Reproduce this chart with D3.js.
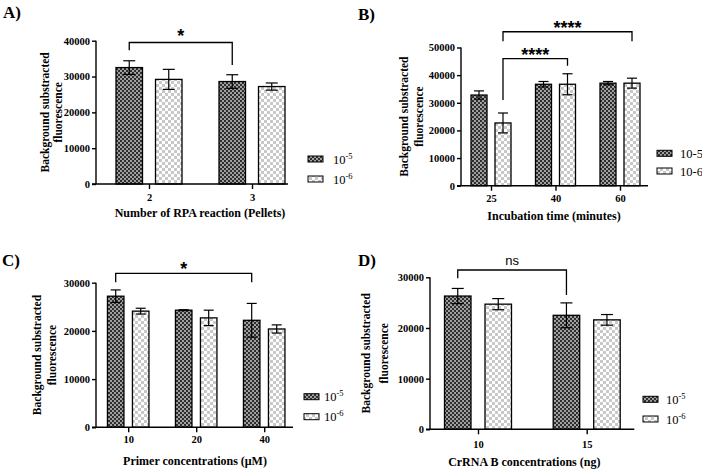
<!DOCTYPE html>
<html>
<head>
<meta charset="UTF-8">
<title>RPA fluorescence panels</title>
<script src="https://d3js.org/d3.v7.min.js"></script>
<style>
  body { margin: 0; background: #fff; }
  svg { display: block; }
  .serif { font-family: "Liberation Serif", "Times New Roman", serif; }
</style>
</head>
<body>
<svg width="702" height="470"></svg>
<script>

// ---- data ----
var series = ["10-5", "10-6"];

// A) number of RPA reactions
var catsA = ["2", "3"];
var meanA5 = [32500, 28600], sdA5 = [1900, 1900];
var meanA6 = [29200, 27200], sdA6 = [2800, 1000];

// B) incubation time
var catsB = ["25", "40", "60"];
var meanB5 = [32800, 36700, 37100], sdB5 = [1500, 1000, 600];
var meanB6 = [22700, 36700, 37100], sdB6 = [3600, 3800, 1800];

// C) primer concentration
var catsC = ["10", "20", "40"];
var meanC5 = [27200, 24300, 22200], sdC5 = [1300, 100, 3500];
var meanC6 = [24100, 22700, 20400], sdC6 = [600, 1600, 850];

// D) crRNA concentration
var catsD = ["10", "15"];
var meanD5 = [26300, 22500], sdD5 = [1500, 2450];
var meanD6 = [24700, 21600], sdD6 = [1100, 1050];

var svg = d3.select("svg");

// fill patterns (checkerboards)
var defs = svg.append("defs");
var pd = defs.append("pattern").attr("id", "dark")
  .attr("patternUnits", "userSpaceOnUse").attr("width", 4).attr("height", 4);
pd.append("rect").attr("width", 4).attr("height", 4).attr("fill", "#a0a0a0");
pd.append("rect").attr("width", 2).attr("height", 2).attr("fill", "#2e2e2e");
pd.append("rect").attr("x", 2).attr("y", 2).attr("width", 2).attr("height", 2).attr("fill", "#2e2e2e");
var pl = defs.append("pattern").attr("id", "light")
  .attr("patternUnits", "userSpaceOnUse").attr("width", 6).attr("height", 6);
pl.append("rect").attr("width", 6).attr("height", 6).attr("fill", "#ffffff");
pl.append("rect").attr("width", 3).attr("height", 3).attr("fill", "#c8c8c8");
pl.append("rect").attr("x", 3).attr("y", 3).attr("width", 3).attr("height", 3).attr("fill", "#c8c8c8");
var fills = ["url(#dark)", "url(#light)"];

var panels = [
  { label: "A)", lx: 3, ly: 18,
    cats: catsA, means: [meanA5, meanA6], sds: [sdA5, sdA6],
    yMax: 40000, xl: 96, xr: 288, yt: 40.7, yb: 184, c0: 149, c1: 252, bw: 26.5, gap: 13, cap: 12,
    ytx: [45, 58], xTitle: "Number of RPA reaction (Pellets)", xtx: 200, xty: 216.5, tickDy: 16.5,
    leg: { x: 308, y: 159, dy: 20, tx: 333, sup: true },
    brackets: [{ a: [0, 0], b: [1, 0], y: 39500, la: 37300, lb: 33200, text: "*", ty: 29, star: true }] },
  { label: "B)", lx: 358, ly: 20,
    cats: catsB, means: [meanB5, meanB6], sds: [sdB5, sdB6],
    yMax: 50000, xl: 461, xr: 648, yt: 47.5, yb: 185.7, c0: 491, c1: 620, bw: 16, gap: 8, cap: 10,
    ytx: [404, 419], xTitle: "Incubation time (minutes)", xtx: 554, xty: 220, tickDy: 16.5,
    leg: { x: 657, y: 153.3, dy: 17.7, tx: 680, sup: false },
    brackets: [
      { a: [0, 1], b: [1, 1], y: 46000, la: 31000, lb: 43400, text: "****", ty: 48.5, star: true },
      { a: [0, 1], b: [2, 1], y: 55700, la: 52300, lb: 52300, text: "****", ty: 21, star: true }] },
  { label: "C)", lx: 2, ly: 266,
    cats: catsC, means: [meanC5, meanC6], sds: [sdC5, sdC6],
    yMax: 30000, xl: 96, xr: 293, yt: 282.7, yb: 427.3, c0: 128.2, c1: 264.2, bw: 16.5, gap: 8.5, cap: 10,
    ytx: [36.7, 51.7], xTitle: "Primer concentrations (\u03bcM)", xtx: 195, xty: 464.5, tickDy: 16,
    leg: { x: 304, y: 396.7, dy: 20, tx: 324, sup: true },
    brackets: [{ a: [0, 0], b: [2, 0], y: 31950, la: 30100, lb: 30100, text: "*", ty: 262, star: true }] },
  { label: "D)", lx: 358, ly: 266,
    cats: catsD, means: [meanD5, meanD6], sds: [sdD5, sdD6],
    yMax: 30000, xl: 430, xr: 634.3, yt: 277.3, yb: 429.3, c0: 478, c1: 586.7, bw: 26.5, gap: 14, cap: 12,
    ytx: [366, 383.7], xTitle: "CrRNA B concentrations (ng)", xtx: 524.3, xty: 466, tickDy: 19,
    leg: { x: 643, y: 399.3, dy: 19.7, tx: 666, sup: true },
    brackets: [{ a: [0, 0], b: [1, 0], y: 31440, la: 29800, lb: 26500, text: "ns", ty: 260, star: false }] }
];

panels.forEach(function(p) {
  var g = svg.append("g");

  var x = d3.scalePoint().domain(p.cats).range([p.c0, p.c1]);
  var y = d3.scaleLinear().domain([0, p.yMax]).range([p.yb, p.yt]);
  var off = function(s) { return (s === 0 ? -1 : 1) * (p.bw + p.gap) / 2; };

  // bars
  p.means.forEach(function(m, s) {
    g.selectAll(null).data(m).enter().append("rect")
      .attr("x", function(d, i) { return x(p.cats[i]) + off(s) - p.bw / 2; })
      .attr("y", function(d) { return y(d); })
      .attr("width", p.bw)
      .attr("height", function(d) { return y(0) - y(d); })
      .attr("fill", fills[s])
      .attr("stroke", "#000").attr("stroke-width", 1.3);
  });

  // error bars
  p.means.forEach(function(m, s) {
    m.forEach(function(d, i) {
      var cx = x(p.cats[i]) + off(s), sd = p.sds[s][i];
      var e = g.append("g").attr("stroke", "#000").attr("stroke-width", 1.2);
      e.append("line").attr("x1", cx).attr("x2", cx).attr("y1", y(d + sd)).attr("y2", y(d - sd));
      e.append("line").attr("x1", cx - p.cap / 2).attr("x2", cx + p.cap / 2).attr("y1", y(d + sd)).attr("y2", y(d + sd));
      e.append("line").attr("x1", cx - p.cap / 2).attr("x2", cx + p.cap / 2).attr("y1", y(d - sd)).attr("y2", y(d - sd));
    });
  });

  // y axis
  var ya = g.append("g").attr("transform", "translate(" + p.xl + ",0)")
    .call(d3.axisLeft(y).tickValues(d3.range(0, p.yMax + 1, 10000))
      .tickSize(4).tickPadding(2).tickFormat(d3.format("d")));
  ya.select(".domain").attr("d", "M0," + p.yb + "V" + p.yt);

  // x axis
  var xa = g.append("g").attr("transform", "translate(0," + p.yb + ")")
    .call(d3.axisBottom(x).tickSize(5).tickPadding(4));
  xa.select(".domain").attr("d", "M" + (p.xl - 4) + ",0H" + p.xr);

  [ya, xa].forEach(function(a) {
    a.attr("class", "serif").attr("font-size", 10.5).attr("font-weight", "bold");
    a.selectAll("line, path").attr("stroke", "#000").attr("stroke-width", 1.4);
    a.selectAll("text").attr("fill", "#000");
  });
  xa.selectAll("text").attr("dy", null).attr("y", p.tickDy);

  // titles
  var yc = (p.yt + p.yb) / 2;
  ["Background substracted", "fluorescence"].forEach(function(t, k) {
    g.append("text").attr("class", "serif")
      .attr("transform", "translate(" + p.ytx[k] + "," + yc + ") rotate(-90)")
      .attr("text-anchor", "middle").attr("dy", "0.35em")
      .attr("font-size", 11.5).attr("font-weight", "bold").text(t);
  });
  g.append("text").attr("class", "serif")
    .attr("x", p.xtx).attr("y", p.xty).attr("text-anchor", "middle")
    .attr("font-size", 12).attr("font-weight", "bold").text(p.xTitle);
  g.append("text").attr("class", "serif")
    .attr("x", p.lx).attr("y", p.ly)
    .attr("font-size", 17).attr("font-weight", "bold").text(p.label);

  // legend
  series.forEach(function(sname, s) {
    var ly = p.leg.y + s * p.leg.dy;
    g.append("rect").attr("x", p.leg.x).attr("y", ly - 3).attr("width", 15).attr("height", 6)
      .attr("fill", fills[s]).attr("stroke", "#000").attr("stroke-width", 1);
    var t = g.append("text").attr("class", "serif").attr("x", p.leg.tx).attr("y", ly + 4.5)
      .attr("font-size", 12.5);
    if (p.leg.sup) {
      var parts = sname.split("-");
      t.append("tspan").text(parts[0]);
      t.append("tspan").attr("font-size", 8.5).attr("dy", -5).text("-" + parts[1]);
    } else {
      t.text(sname);
    }
  });

  // significance brackets
  p.brackets.forEach(function(b) {
    var xa1 = x(p.cats[b.a[0]]) + off(b.a[1]);
    var xb1 = x(p.cats[b.b[0]]) + off(b.b[1]);
    g.append("path")
      .attr("d", "M" + xa1 + "," + y(b.la) + "V" + y(b.y) + "H" + xb1 + "V" + y(b.lb))
      .attr("fill", "none").attr("stroke", "#000").attr("stroke-width", 1.3);
    g.append("text")
      .attr("x", (xa1 + xb1) / 2).attr("y", b.ty).attr("dy", b.star ? "0.7em" : "0.35em")
      .attr("text-anchor", "middle")
      .attr("font-family", "'Liberation Sans', Arial, sans-serif")
      .attr("font-size", b.star ? 18 : 13).attr("font-weight", b.star ? "bold" : "normal")
      .text(b.text);
  });
});

</script>
</body>
</html>
